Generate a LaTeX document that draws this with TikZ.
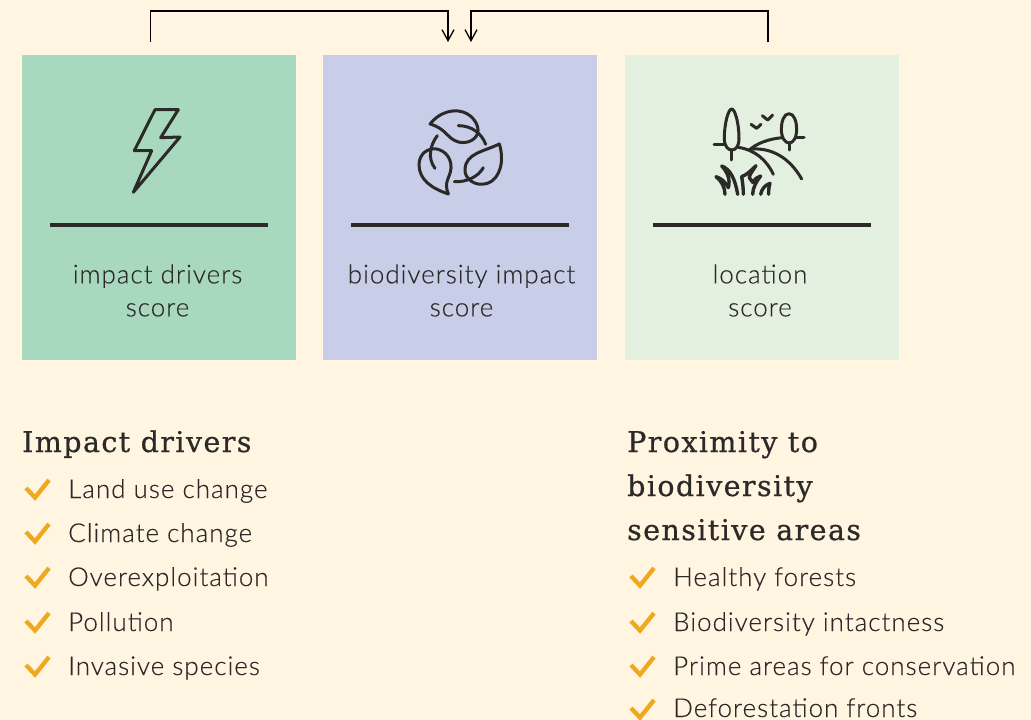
\documentclass[tikz,border=0pt]{standalone}
\usepackage{fontspec}
\setmainfont{Lato Light}[BoldFont=Lato]
\newfontfamily\slab{DejaVu Serif}[LetterSpace=5,FakeBold=0.7]
\usetikzlibrary{arrows.meta}
\definecolor{bgc}{HTML}{FFF5E1}
\definecolor{gc}{HTML}{A8D9BF}
\definecolor{pc}{HTML}{C8CDE8}
\definecolor{lc}{HTML}{E4F0DF}
\definecolor{ink}{HTML}{2B2A29}
\definecolor{chk}{HTML}{F0A81E}
\newfontfamily\bodyf{Lato Light}[LetterSpace=3.8,FakeBold=0.25]
\tikzset{
 card/.style={minimum width=274pt,minimum height=305pt,inner sep=0pt,anchor=north west,draw=none},
 bar/.style={line width=4pt,ink},
 lab/.style={text=ink,font=\bodyf\fontsize{26}{33}\selectfont,align=center,inner sep=0pt},
 head/.style={text=ink,font=\slab\fontsize{28.5}{44}\selectfont,align=left,inner sep=0pt,anchor=base west},
 item/.style={text=ink,font=\bodyf\fontsize{26}{30}\selectfont,inner sep=0pt,anchor=base west},
 chkm/.style={chk,line width=4.3pt,line join=miter},
 con/.style={black,line width=1.3pt,line join=miter},
 ico/.style={ink,line width=3pt,line cap=round,line join=round},
 pic3/.style={shift={#1},scale=1/3}
}
\newcommand{\tickat}[2]{\draw[chkm] (#1-11,#2-1) -- (#1-2,#2+8.5) -- (#1+12,#2-9);}
\begin{document}
\begin{tikzpicture}[x=1pt,y=-1pt]
\useasboundingbox (0,0) rectangle (1031,720);
\clip (0,0) rectangle (1031,720);
\fill[bgc] (0,0) rectangle (1031,720);
\node[card,fill=gc] (impact) at (22,55) {};
\node[card,fill=pc] (bio) at (323,55) {};
\node[card,fill=lc] (loc) at (625,55) {};
% connectors
\coordinate (a1) at (150.5,42);
\coordinate (a2) at (448,42);
\coordinate (b1) at (768,42);
\coordinate (b2) at (471,42);
\draw[con,-{Straight Barb[length=11pt,width=12pt]}] (a1) -- (150.5,11) -- (448,11) -- (a2);
\draw[con,-{Straight Barb[length=11pt,width=12pt]}] (b1) -- (768,11) -- (471,11) -- (b2);
% bars
\draw[bar] (50,225) -- (268,225);
\draw[bar] (351,225) -- (569,225);
\draw[bar] (653,225) -- (871,225);
% labels
\node[lab] (t1) at (157.5,290.5) {impact drivers\\score};
\node[lab] (t2) at (461.5,290.5) {biodiversity impact\\score};
\node[lab] (t3) at (760,290.5) {location\\score};
% bolt
\begin{scope}[pic3={(100,90)}]
\draw[ico] (165,59) -- (235,59) -- (182,143) -- (240,141) -- (100,307) -- (155,182) -- (103,182) -- cycle;
\end{scope}
% leaves
\begin{scope}[pic3={(400,95)}]
\draw[ico] (90,87) .. controls (115,55) and (150,45) .. (175,48) .. controls (215,52) and (240,90) .. (233,115) .. controls (225,140) and (190,150) .. (165,137) .. controls (140,125) and (135,100) .. (90,87) -- cycle;
\draw[ico] (175,92) .. controls (215,92) and (245,115) .. (257,148);
\draw[ico] (145,297) .. controls (95,280) and (58,255) .. (57,210) .. controls (57,175) and (85,158) .. (110,162) .. controls (140,168) and (155,195) .. (153,220) .. controls (150,250) and (130,260) .. (145,297) -- cycle;
\draw[ico] (112,122) .. controls (90,150) and (82,190) .. (105,220);
\draw[ico] (298,147) .. controls (312,190) and (305,250) .. (262,265) .. controls (225,277) and (192,250) .. (195,222) .. controls (198,175) and (250,170) .. (298,147) -- cycle;
\draw[ico] (163,260) .. controls (200,262) and (235,245) .. (250,218);
\end{scope}
% landscape
\begin{scope}[pic3={(700,95)}]
\draw[ico] (95,42) .. controls (85,42) and (73,85) .. (73,130) .. controls (73,155) and (85,165) .. (95,165) .. controls (107,165) and (117,155) .. (117,130) .. controls (117,85) and (105,42) .. (95,42) -- cycle;
\draw[ico] (95,165) -- (95,195);
\draw[ico] (42,147) -- (73,147);
\draw[ico] (267,56) .. controls (252,56) and (244,80) .. (244,102) .. controls (244,128) and (255,144) .. (267,144) .. controls (280,144) and (290,128) .. (290,102) .. controls (290,80) and (282,56) .. (267,56) -- cycle;
\draw[ico] (267,144) -- (267,165);
\draw[ico] (290,126) -- (312,126);
\draw[ico] (246,128) .. controls (205,132) and (170,145) .. (148,165);
\draw[ico] (115,157) .. controls (165,165) and (200,195) .. (220,238);
\draw[ico] (148,163) .. controls (215,155) and (270,190) .. (305,252);
\draw[ico] (153,88) -- (170,100) -- (183,88);
\draw[ico] (187,62) -- (203,75) -- (218,60);
% grass
\draw[ico,line width=3.4pt] (75,298) .. controls (75,278) and (65,258) .. (48,245) .. controls (62,250) and (75,258) .. (85,278) .. controls (92,255) and (82,230) .. (65,213) .. controls (90,222) and (105,250) .. (113,298);
\draw[ico,line width=3.4pt] (130,298) .. controls (130,280) and (128,262) .. (125,245) .. controls (140,240) and (155,225) .. (168,212) .. controls (160,225) and (148,238) .. (148,248) .. controls (152,255) and (156,258) .. (158,262) .. controls (165,252) and (172,245) .. (182,243) .. controls (170,258) and (158,278) .. (158,298);
\draw[ico,line width=3.4pt] (182,298) .. controls (185,282) and (195,270) .. (210,265) .. controls (206,276) and (206,288) .. (206,298);
\end{scope}
% lists
\node[head] (h1) at (22,452) {Impact drivers};
\node[head] (h2a) at (627,452) {Proximity to};
\node[head] (h2b) at (627,496) {biodiversity};
\node[head] (h2c) at (627,540) {sensitive areas};
\node[item] (i1) at (68,498) {Land use change};
\node[item] (i2) at (68,542) {Climate change};
\node[item] (i3) at (68,586) {Overexploitation};
\node[item] (i4) at (68,631) {Pollution};
\node[item] (i5) at (68,675) {Invasive species};
\tickat{37}{489}\tickat{37}{533}\tickat{37}{577}\tickat{37}{622}\tickat{37}{666}
\node[item] (j1) at (673,586) {Healthy forests};
\node[item] (j2) at (673,631) {Biodiversity intactness};
\node[item] (j3) at (673,675) {Prime areas for conservation};
\node[item] (j4) at (673,717) {Deforestation fronts};
\tickat{642}{577}\tickat{642}{622}\tickat{642}{666}\tickat{642}{709}
\end{tikzpicture}
\end{document}
